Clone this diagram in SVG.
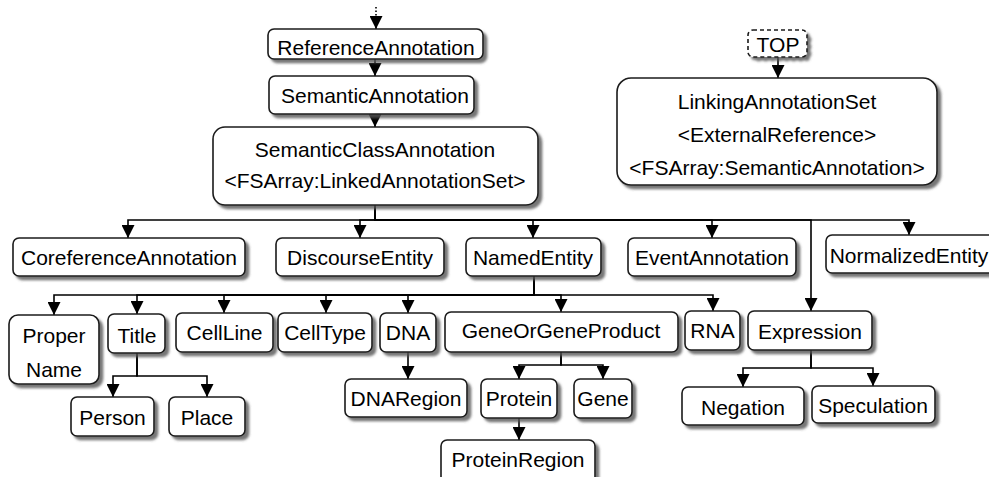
<svg xmlns="http://www.w3.org/2000/svg" width="989" height="477" viewBox="0 0 989 477">
<style>
.n rect{fill:#fff;stroke:#1a1a1a;stroke-width:1.6;filter:url(#sh)}
.n rect.dash{stroke-dasharray:4 3}
text{font-family:"Liberation Sans",Arial,sans-serif;font-size:21px;fill:#000;text-anchor:middle}
#edges path{fill:none;stroke:#000;stroke-width:1.6;marker-end:url(#ah)}
#edges path.nm{marker-end:none}
</style>
<defs>
<filter id="sh" x="-10%" y="-10%" width="130%" height="140%">
<feDropShadow dx="3.5" dy="3.5" stdDeviation="1.2" flood-color="#555" flood-opacity="0.8"/>
</filter>
<marker id="ah" markerUnits="userSpaceOnUse" markerWidth="13" markerHeight="13" refX="13" refY="6.5" orient="auto">
<path d="M0,0 L13,6.5 L0,13 z" fill="#000"/>
</marker>
</defs>
<rect width="989" height="477" fill="#fff"/>

<g id="edges">
<path class="nm" d="M376,7 V16" style="stroke-dasharray:1.5 2"/>
<path d="M376,16 V29"/>
<path d="M375,59 V76"/>
<path d="M375,114 V127"/>
<path d="M778,57 V78"/>
<path d="M375,205 V220 H128 V238"/>
<path d="M375,205 V220 H360 V238"/>
<path d="M375,205 V220 H533 V238"/>
<path d="M375,205 V220 H712 V238"/>
<path d="M375,205 V220 H909 V235"/>
<path d="M375,205 V220 H811 V311"/>
<path d="M534,276 V295 H54 V315"/>
<path d="M534,276 V295 H137 V314"/>
<path d="M534,276 V295 H224 V313"/>
<path d="M534,276 V295 H326 V313"/>
<path d="M534,276 V295 H408 V313"/>
<path d="M534,276 V295 H561 V312"/>
<path d="M534,276 V295 H713 V311"/>
<path d="M137,353 V376 H113 V397"/>
<path d="M137,353 V376 H207 V397"/>
<path d="M408,352 V379"/>
<path d="M561,352 V365 H519 V379"/>
<path d="M561,352 V365 H603 V379"/>
<path d="M519,418 V440"/>
<path d="M811,350 V368 H743 V387"/>
<path d="M811,350 V368 H873 V386"/>
</g>

<g id="ReferenceAnnotation" class="n"><rect x="268" y="29" width="215" height="30" rx="6"/><text x="376" y="55">ReferenceAnnotation</text></g>
<g id="SemanticAnnotation" class="n"><rect x="269" y="76" width="205" height="38" rx="6"/><text x="375" y="103">SemanticAnnotation</text></g>
<g id="SemanticClassAnnotation" class="n"><rect x="213" y="127" width="325" height="78" rx="12"/><text x="375" y="157">SemanticClassAnnotation</text><text x="375" y="188">&lt;FSArray:LinkedAnnotationSet&gt;</text></g>
<g id="TOP" class="n"><rect class="dash" x="748" y="30" width="59" height="27" rx="5"/><text x="778" y="52">TOP</text></g>
<g id="LinkingAnnotationSet" class="n"><rect x="617" y="78" width="320" height="107" rx="14"/><text x="777" y="109">LinkingAnnotationSet</text><text x="777" y="142">&lt;ExternalReference&gt;</text><text x="777" y="175">&lt;FSArray:SemanticAnnotation&gt;</text></g>

<g id="CoreferenceAnnotation" class="n"><rect x="13" y="238" width="232" height="38" rx="6"/><text x="129" y="265">CoreferenceAnnotation</text></g>
<g id="DiscourseEntity" class="n"><rect x="276" y="238" width="168" height="38" rx="6"/><text x="360" y="265">DiscourseEntity</text></g>
<g id="NamedEntity" class="n"><rect x="466" y="238" width="135" height="38" rx="6"/><text x="533" y="265">NamedEntity</text></g>
<g id="EventAnnotation" class="n"><rect x="628" y="238" width="168" height="38" rx="6"/><text x="712" y="265">EventAnnotation</text></g>
<g id="NormalizedEntity" class="n"><rect x="826" y="235" width="170" height="38" rx="6"/><text x="909" y="263">NormalizedEntity</text></g>

<g id="ProperName" class="n"><rect x="9" y="315" width="90" height="69" rx="9"/><text x="54" y="343">Proper</text><text x="54" y="377">Name</text></g>
<g id="Title" class="n"><rect x="108" y="314" width="57" height="39" rx="6"/><text x="137" y="343">Title</text></g>
<g id="CellLine" class="n"><rect x="176" y="313" width="97" height="39" rx="6"/><text x="224.5" y="340">CellLine</text></g>
<g id="CellType" class="n"><rect x="278" y="313" width="94" height="39" rx="6"/><text x="325" y="340">CellType</text></g>
<g id="DNA" class="n"><rect x="380" y="313" width="56" height="39" rx="6"/><text x="408" y="340">DNA</text></g>
<g id="GeneOrGeneProduct" class="n"><rect x="445" y="312" width="233" height="40" rx="6"/><text x="561" y="338">GeneOrGeneProduct</text></g>
<g id="RNA" class="n"><rect x="685" y="311" width="55" height="39" rx="6"/><text x="712.5" y="338">RNA</text></g>
<g id="Expression" class="n"><rect x="748" y="311" width="124" height="39" rx="6"/><text x="810" y="339">Expression</text></g>

<g id="Person" class="n"><rect x="71" y="397" width="83" height="39" rx="6"/><text x="112.5" y="425">Person</text></g>
<g id="Place" class="n"><rect x="169" y="397" width="76" height="39" rx="6"/><text x="207" y="425">Place</text></g>
<g id="DNARegion" class="n"><rect x="345" y="379" width="122" height="38" rx="6"/><text x="406" y="406">DNARegion</text></g>
<g id="Protein" class="n"><rect x="481" y="379" width="76" height="39" rx="6"/><text x="519" y="406">Protein</text></g>
<g id="Gene" class="n"><rect x="574" y="379" width="58" height="39" rx="6"/><text x="603" y="406">Gene</text></g>
<g id="ProteinRegion" class="n"><rect x="441" y="440" width="154" height="45" rx="6"/><text x="518" y="467">ProteinRegion</text></g>
<g id="Negation" class="n"><rect x="682" y="387" width="122" height="38" rx="6"/><text x="743" y="415">Negation</text></g>
<g id="Speculation" class="n"><rect x="812" y="386" width="123" height="37" rx="6"/><text x="873" y="413">Speculation</text></g>
</svg>
